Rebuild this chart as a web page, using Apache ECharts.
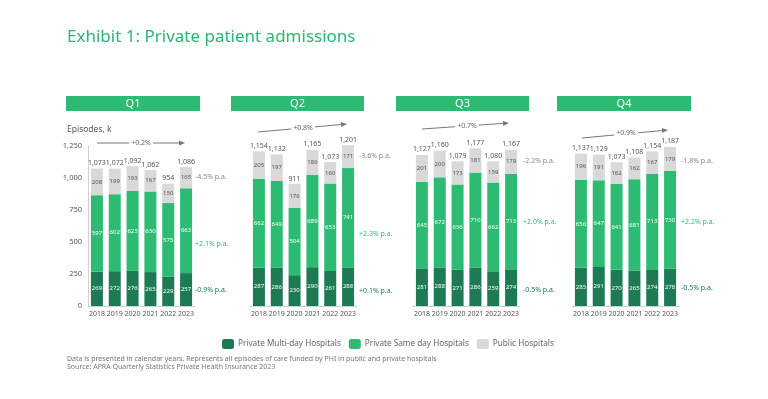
<!DOCTYPE html>
<html>
<head>
<meta charset="utf-8">
<script src="https://cdn.jsdelivr.net/npm/echarts@6/dist/echarts.min.js"></script>
<style>
  html, body { margin: 0; padding: 0; background: #fff; }
  #chart { width: 768px; height: 399px; }
</style>
</head>
<body>
<div id="chart"></div>
<script>
// data, thousands of episodes
const years = ['2018', '2019', '2020', '2021', '2022', '2023'];
const quarters = ['Q1', 'Q2', 'Q3', 'Q4'];

const multiDay = [
  [269, 272, 276, 265, 229, 257],
  [287, 286, 230, 290, 261, 288],
  [281, 288, 271, 286, 259, 274],
  [285, 291, 270, 265, 274, 278]
];
const sameDay = [
  [597, 602, 623, 630, 575, 663],
  [662, 649, 504, 689, 653, 741],
  [645, 672, 636, 710, 662, 713],
  [656, 647, 641, 681, 713, 730]
];
const publicHosp = [
  [208, 199, 193, 167, 150, 165],
  [205, 197, 176, 186, 160, 171],
  [201, 200, 173, 181, 159, 179],
  [196, 191, 162, 162, 167, 179]
];
const totals = [
  [1073, 1072, 1092, 1062, 954, 1086],
  [1154, 1132, 911, 1165, 1073, 1201],
  [1127, 1160, 1079, 1177, 1080, 1167],
  [1137, 1129, 1073, 1108, 1154, 1187]
];
const overallGrowth = ['+0.2%', '+0.8%', '+0.7%', '+0.9%'];
const publicGrowth = ['-4.5% p.a.', '-3.6% p.a.', '-2.2% p.a.', '-1.8% p.a.'];
const sameDayGrowth = ['+2.1% p.a.', '+2.3% p.a.', '+2.0% p.a.', '+2.2% p.a.'];
const multiDayGrowth = ['-0.9% p.a.', '+0.1% p.a.', '-0.5% p.a.', '-0.5% p.a.'];

const DARK = '#1d7a55';
const MID = '#2dbb74';
const GREY = '#d9d9d9';
const FONT = 'Noto Sans';

// layout of each panel
const panels = [
  { left: 88,  top: 146,   height: 160,   hdr: [66, 200],  arrow: [[97, 143], [185, 143]], txt: [141, 143], ann: [195, [177, 244, 290]] },
  { left: 250, top: 138.5, height: 167.5, hdr: [231, 364], arrow: [[258, 132], [347, 124]], txt: [303, 128], ann: [359, [156, 234, 291]] },
  { left: 413, top: 138.5, height: 167.5, hdr: [396, 529], arrow: [[422, 129], [509, 123]], txt: [467, 126], ann: [523, [161, 222, 290]] },
  { left: 572, top: 138.5, height: 167.5, hdr: [557, 691], arrow: [[582, 138], [668, 130]], txt: [626, 133], ann: [681, [161, 222, 288]] }
];

const chart = echarts.init(document.getElementById('chart'));

const grids = [], xAxes = [], yAxes = [], series = [], graphics = [];

function arrow(p0, p1) {
  const ang = Math.atan2(p1[1] - p0[1], p1[0] - p0[0]);
  const len = 6, w = 2.5;
  const bx = p1[0] - len * Math.cos(ang), by = p1[1] - len * Math.sin(ang);
  const nx = -Math.sin(ang) * w, ny = Math.cos(ang) * w;
  return [
    { type: 'line', shape: { x1: p0[0], y1: p0[1], x2: bx, y2: by }, style: { stroke: '#777', lineWidth: 1 } },
    { type: 'polygon', shape: { points: [[p1[0], p1[1]], [bx + nx, by + ny], [bx - nx, by - ny]] }, style: { fill: '#777' } }
  ];
}

quarters.forEach((q, i) => {
  const p = panels[i];
  grids.push({ left: p.left, top: p.top, width: 107, height: p.height });
  xAxes.push({
    type: 'category', gridIndex: i, data: years,
    axisTick: { show: false },
    axisLine: { lineStyle: { color: '#d0d0d0' } },
    axisLabel: { interval: 0, fontSize: 7, color: '#555', fontFamily: FONT, margin: 4 }
  });
  yAxes.push({
    type: 'value', gridIndex: i, min: 0, max: 1250, interval: 250,
    show: i === 0,
    splitLine: { show: false },
    axisLine: { show: i === 0, lineStyle: { color: '#d0d0d0' } },
    axisTick: { show: false },
    axisLabel: {
      show: i === 0, fontSize: 7.5, color: '#555', fontFamily: FONT, margin: 6,
      formatter: v => v.toLocaleString('en-US')
    }
  });
  const inside = (color) => ({
    show: true, position: 'inside', fontSize: 6, color: color, fontFamily: FONT
  });
  series.push({
    name: 'Private Multi-day Hospitals', type: 'bar', stack: q,
    xAxisIndex: i, yAxisIndex: i, barWidth: 12,
    itemStyle: { color: DARK }, label: inside('#fff'),
    data: multiDay[i]
  });
  series.push({
    name: 'Private Same day Hospitals', type: 'bar', stack: q,
    xAxisIndex: i, yAxisIndex: i, barWidth: 12,
    itemStyle: { color: MID }, label: inside('#fff'),
    data: sameDay[i]
  });
  series.push({
    name: 'Public Hospitals', type: 'bar', stack: q,
    xAxisIndex: i, yAxisIndex: i, barWidth: 12,
    itemStyle: { color: GREY }, label: inside('#555'),
    data: publicHosp[i]
  });
  // zero-height bar carrying the total label
  series.push({
    name: 'total', type: 'bar', stack: q,
    xAxisIndex: i, yAxisIndex: i, barWidth: 12,
    itemStyle: { color: 'transparent' },
    label: {
      show: true, position: 'top', distance: 2, fontSize: 7, color: '#555', fontFamily: FONT,
      formatter: d => totals[i][d.dataIndex].toLocaleString('en-US')
    },
    data: years.map(() => 0)
  });

  // quarter header
  graphics.push({
    type: 'rect', shape: { x: p.hdr[0], y: 96, width: p.hdr[1] - p.hdr[0], height: 15 },
    style: { fill: MID }
  });
  graphics.push({
    type: 'text', x: (p.hdr[0] + p.hdr[1]) / 2, y: 103.5,
    style: { text: q, fill: '#fff', font: '11px "' + FONT + '"', align: 'center', verticalAlign: 'middle' }
  });
  // CAGR arrow
  arrow(p.arrow[0], p.arrow[1]).forEach(g => graphics.push(g));
  graphics.push({
    type: 'text', x: p.txt[0], y: p.txt[1],
    style: {
      text: overallGrowth[i], fill: '#666', font: '7px "' + FONT + '"',
      align: 'center', verticalAlign: 'middle', backgroundColor: '#fff', padding: [0, 2]
    }
  });
  // per-segment growth notes
  const notes = [[publicGrowth[i], '#888'], [sameDayGrowth[i], MID], [multiDayGrowth[i], DARK]];
  notes.forEach((n, k) => {
    graphics.push({
      type: 'text', x: p.ann[0], y: p.ann[1][k],
      style: { text: n[0], fill: n[1], font: '7px "' + FONT + '"', verticalAlign: 'middle' }
    });
  });
});

graphics.push({
  type: 'text', x: 67, y: 37,
  style: { text: 'Exhibit 1: Private patient admissions', fill: '#2bb673', font: '17px "' + FONT + '"', verticalAlign: 'middle' }
});
graphics.push({
  type: 'text', x: 67, y: 130,
  style: { text: 'Episodes, k', fill: '#555', font: '8.5px "' + FONT + '"', verticalAlign: 'middle' }
});
graphics.push({
  type: 'text', x: 67, y: 359,
  style: { text: 'Data is presented in calendar years. Represents all episodes of care funded by PHI in public and private hospitals', fill: '#777', font: '7px "' + FONT + '"', verticalAlign: 'middle' }
});
graphics.push({
  type: 'text', x: 67, y: 367,
  style: { text: 'Source: APRA Quarterly Statistics Private Health Insurance 2023', fill: '#777', font: '7px "' + FONT + '"', verticalAlign: 'middle' }
});

const option = {
  animation: false,
  legend: {
    data: ['Private Multi-day Hospitals', 'Private Same day Hospitals', 'Public Hospitals'],
    left: 217, top: 334,
    itemWidth: 12, itemHeight: 10, itemGap: 8,
    textStyle: { fontSize: 8.2, color: '#666', fontFamily: FONT, padding: [0, 0, 0, -1] }
  },
  grid: grids,
  xAxis: xAxes,
  yAxis: yAxes,
  series: series,
  graphic: graphics
};

chart.setOption(option);
</script>
</body>
</html>
